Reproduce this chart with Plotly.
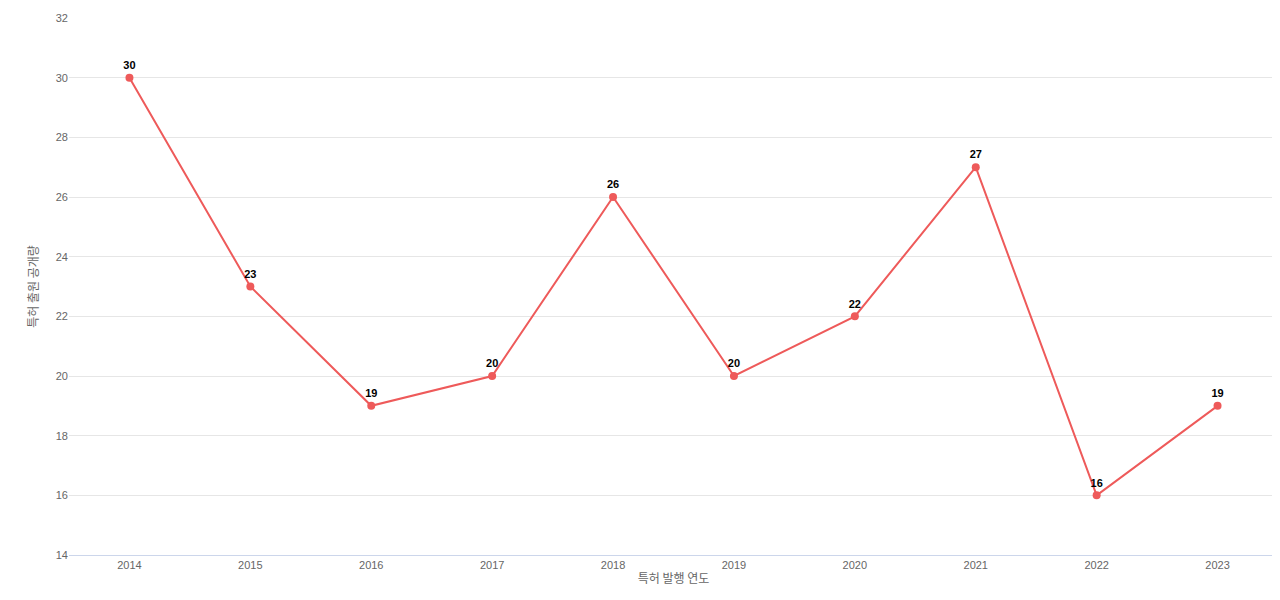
import plotly.graph_objects as go

years = ["2014","2015","2016","2017","2018","2019","2020","2021","2022","2023"]
counts = [30,23,19,20,26,20,22,27,16,19]

fig = go.Figure(go.Scatter(
    x=years, y=counts, mode="lines+markers+text",
    line=dict(color="#ee5a5a", width=2), marker=dict(color="#ee5a5a", size=8),
    text=["<b>%d</b>" % v for v in counts], textposition="top center",
    textfont=dict(color="black", size=11, family="Liberation Sans"),
    cliponaxis=False,
))
fig.update_layout(
    width=1280, height=600, plot_bgcolor="white", paper_bgcolor="white",
    margin=dict(l=61, r=10, t=10, b=53), showlegend=False,
    font=dict(family="Liberation Sans, Noto Sans CJK KR", size=11, color="#666"),
    xaxis=dict(type="category", range=[-0.5, 9.5], showgrid=False, automargin=False,
               showline=True, linecolor="#ccd6eb", ticks="",
               title=dict(text="특허 발행 연도", standoff=4, font=dict(size=12, color="#666", family="Noto Sans CJK KR"))),
    yaxis=dict(range=[14, 32], dtick=2, gridcolor="#e6e6e6", zeroline=False, automargin=False,
               title=dict(text="특허 출원 공개량", standoff=14, font=dict(size=12, color="#666", family="Noto Sans CJK KR"))),
)
fig.write_html("out.html")
